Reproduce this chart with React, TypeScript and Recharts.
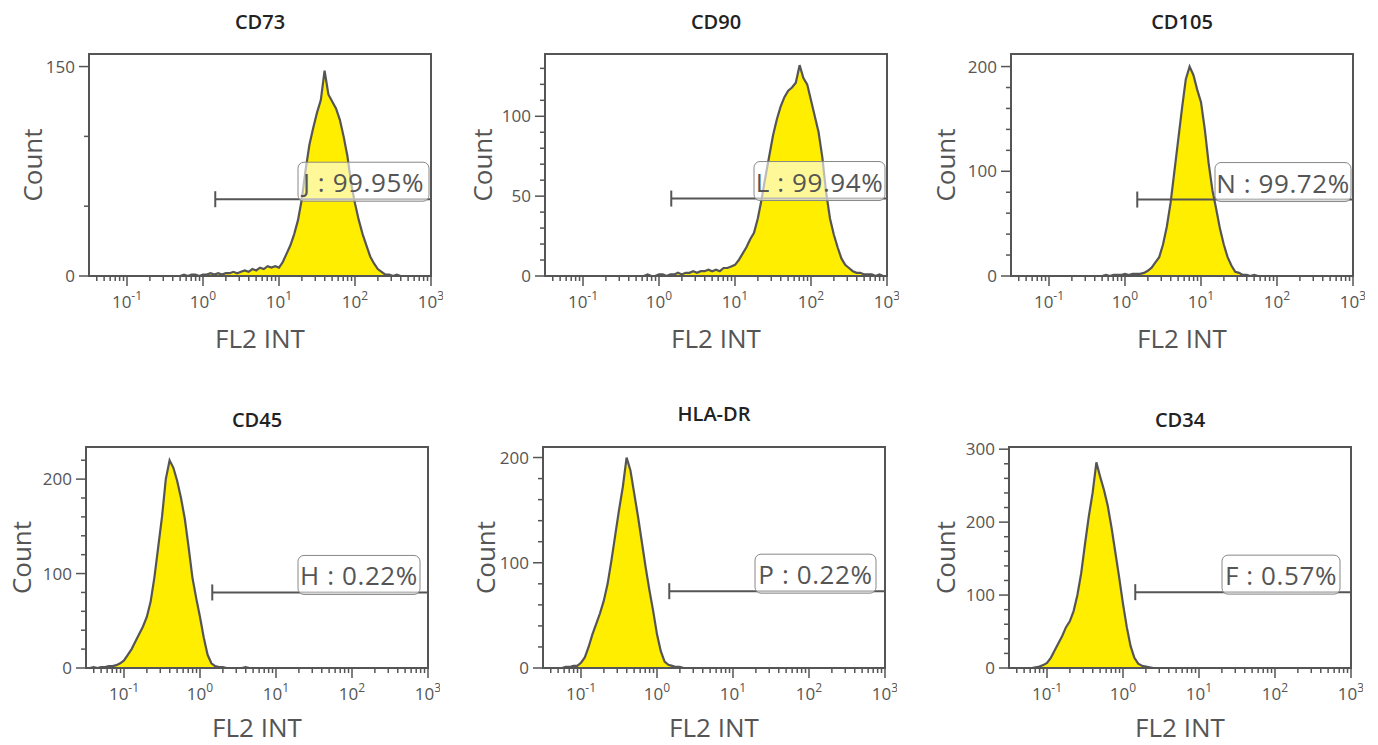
import React from "react";
import { AreaChart, Area, XAxis, YAxis, ReferenceLine, ReferenceArea } from "recharts";

// histogram channels: 0.05 decade bins from 10^-1.5 to 10^3
const LOG_START = -1.5;
const LOG_STEP = 0.05;
const X_MIN = 10 ** LOG_START;
const X_MAX = 1000;

const DECADES = [0.1, 1, 10, 100, 1000];
const DECADE_EXP = ["-1", "0", "1", "2", "3"];
const MINOR_X = [
  0.04, 0.05, 0.06, 0.07, 0.08, 0.09,
  0.2, 0.3, 0.4, 0.5, 0.6, 0.7, 0.8, 0.9,
  2, 3, 4, 5, 6, 7, 8, 9,
  20, 30, 40, 50, 60, 70, 80, 90,
  200, 300, 400, 500, 600, 700, 800, 900,
];
const X_TICKS = [...DECADES, ...MINOR_X].sort((a, b) => a - b);

const cd73Counts = [
  0, 0, 0, 0, 0, 0, 0, 0, 0, 0,
  0, 0, 0, 0, 0, 0, 0, 0, 0, 0,
  0, 0, 0, 0, 0, 1, 0, 1, 1, 0,
  1, 1, 2, 1, 2, 1, 2, 2, 3, 2,
  3, 4, 3, 5, 4, 6, 5, 7, 6, 7,
  6, 10, 16, 22, 30, 40, 55, 76, 94, 106,
  117, 126, 147, 130, 125, 120, 112, 100, 86, 66,
  52, 40, 30, 22, 14, 9, 5, 3, 1, 1,
  0, 1, 0, 0, 0, 0, 0, 0, 0, 0,
  0,
];
const cd90Counts = [
  0, 0, 0, 0, 0, 0, 0, 0, 0, 0,
  0, 0, 0, 0, 0, 0, 0, 0, 0, 0,
  0, 0, 0, 0, 0, 0, 0, 1, 0, 0,
  1, 1, 0, 1, 1, 2, 1, 2, 2, 3,
  2, 3, 3, 4, 3, 4, 3, 5, 5, 6,
  7, 10, 14, 18, 23, 27, 36, 48, 62, 75,
  88, 98, 106, 112, 116, 118, 121, 132, 124, 120,
  110, 100, 90, 74, 52, 36, 26, 18, 11, 7,
  5, 3, 2, 2, 1, 1, 1, 0, 1, 0,
  0,
];
const cd105Counts = [
  0, 0, 0, 0, 0, 0, 0, 0, 0, 0,
  0, 0, 0, 0, 0, 0, 0, 0, 0, 0,
  0, 0, 0, 0, 0, 1, 0, 1, 1, 1,
  2, 1, 2, 2, 2, 3, 5, 8, 13, 18,
  30, 47, 70, 100, 130, 160, 188, 200, 192, 178,
  166, 140, 108, 82, 64, 45, 30, 18, 10, 4,
  3, 1, 1, 0, 1, 0, 0, 0, 0, 0,
  0, 0, 0, 0, 0, 0, 0, 0, 0, 0,
  0, 0, 0, 0, 0, 0, 0, 0, 0, 0,
  0,
];
const cd45Counts = [
  0, 0, 1, 0, 1, 1, 2, 2, 3, 5,
  8, 14, 20, 28, 36, 44, 54, 70, 96, 128,
  160, 200, 220, 212, 198, 180, 158, 128, 96, 74,
  54, 32, 14, 5, 2, 1, 1, 0, 0, 0,
  0, 0, 1, 0, 0, 0, 0, 0, 0, 0,
  0, 0, 0, 0, 0, 0, 0, 0, 0, 0,
  0, 0, 0, 0, 0, 0, 0, 0, 0, 0,
  0, 0, 0, 0, 0, 0, 0, 0, 0, 0,
  0, 0, 0, 0, 0, 0, 0, 0, 0, 0,
  0,
];
const hlaDrCounts = [
  0, 0, 0, 0, 0, 0, 1, 1, 2, 2,
  5, 10, 20, 32, 42, 52, 64, 80, 102, 126,
  150, 172, 200, 188, 166, 144, 120, 96, 74, 54,
  32, 16, 6, 3, 2, 1, 1, 0, 0, 0,
  0, 0, 0, 0, 0, 0, 0, 0, 0, 0,
  0, 0, 0, 0, 0, 0, 0, 0, 0, 0,
  0, 0, 0, 0, 0, 0, 0, 0, 0, 0,
  0, 0, 0, 0, 0, 0, 0, 0, 0, 0,
  0, 0, 0, 0, 0, 0, 0, 0, 0, 0,
  0,
];
const cd34Counts = [
  0, 0, 0, 0, 0, 0, 0, 1, 2, 4,
  7, 14, 24, 34, 44, 56, 64, 78, 100, 130,
  170, 208, 240, 282, 262, 244, 222, 192, 158, 124,
  88, 56, 30, 14, 6, 3, 2, 1, 0, 0,
  0, 0, 0, 0, 0, 0, 0, 0, 0, 0,
  0, 0, 0, 0, 0, 0, 0, 0, 0, 0,
  0, 0, 0, 0, 0, 0, 0, 0, 0, 0,
  0, 0, 0, 0, 0, 0, 0, 0, 0, 0,
  0, 0, 0, 0, 0, 0, 0, 0, 0, 0,
  0,
];

const cd73YTicks = [0, 50, 100, 150];
const cd90YTicks = [0, 10, 20, 30, 40, 50, 60, 70, 80, 90, 100, 110, 120, 130];
const cd105YTicks = [0, 20, 40, 60, 80, 100, 120, 140, 160, 180, 200];
const cd45YTicks = [0, 20, 40, 60, 80, 100, 120, 140, 160, 180, 200, 220];
const hlaDrYTicks = [0, 20, 40, 60, 80, 100, 120, 140, 160, 180, 200];
const cd34YTicks = [0, 20, 40, 60, 80, 100, 120, 140, 160, 180, 200, 220, 240, 260, 280, 300];

const GATE_START = 1.45;

const INK = "#555";
const FONT = "'Open Sans', 'Noto Sans', sans-serif";
const PLOT_W = 342;
const Y_AXIS_W = 85;
const PAD_TOP = 12;
const PAD_RIGHT = 12;

interface Panel {
  title: string;
  counts: number[];
  yMax: number;
  yTicks: number[];
  yLabels: number[];
  gate: number;
  gateLabel: string;
  left: number;
  top: number;
  plotH: number;
  axisH: number;
  xLabelY: number;
  titleY: number;
  countOff: number;
  boxW: number;
  boxGap: number;
}

const panels: Panel[] = [
  { title: "CD73", counts: cd73Counts, yMax: 159, yTicks: cd73YTicks, yLabels: [0, 150], gate: 55, gateLabel: "J : 99.95%",
    left: 89, top: 54, plotH: 222, axisH: 86, xLabelY: 72, titleY: 22, countOff: 47, boxW: 131, boxGap: 2 },
  { title: "CD90", counts: cd90Counts, yMax: 139, yTicks: cd90YTicks, yLabels: [0, 50, 100], gate: 48.5, gateLabel: "L : 99.94%",
    left: 545, top: 54, plotH: 222, axisH: 86, xLabelY: 72, titleY: 22, countOff: 53, boxW: 131, boxGap: 2 },
  { title: "CD105", counts: cd105Counts, yMax: 212, yTicks: cd105YTicks, yLabels: [0, 100, 200], gate: 73, gateLabel: "N : 99.72%",
    left: 1011, top: 54, plotH: 222, axisH: 86, xLabelY: 72, titleY: 22, countOff: 56, boxW: 136, boxGap: 2 },
  { title: "CD45", counts: cd45Counts, yMax: 234, yTicks: cd45YTicks, yLabels: [0, 100, 200], gate: 80, gateLabel: "H : 0.22%",
    left: 86, top: 447, plotH: 221, axisH: 77, xLabelY: 69, titleY: 420, countOff: 55, boxW: 122, boxGap: 8 },
  { title: "HLA-DR", counts: hlaDrCounts, yMax: 210, yTicks: hlaDrYTicks, yLabels: [0, 100, 200], gate: 73, gateLabel: "P : 0.22%",
    left: 543, top: 447, plotH: 221, axisH: 77, xLabelY: 69, titleY: 414, countOff: 48, boxW: 121, boxGap: 9 },
  { title: "CD34", counts: cd34Counts, yMax: 303, yTicks: cd34YTicks, yLabels: [0, 100, 200, 300], gate: 104, gateLabel: "F : 0.57%",
    left: 1009, top: 447, plotH: 221, axisH: 77, xLabelY: 69, titleY: 420, countOff: 54, boxW: 118, boxGap: 11 },
];

const renderXTick = (props: any) => {
  const { x, y, payload } = props;
  const k = DECADES.indexOf(payload.value);
  const major = k >= 0;
  return (
    <g>
      <line x1={x} x2={x} y1={y} y2={y + (major ? 10 : 5)} stroke={INK} strokeWidth={1.5} />
      {major && (
        <text x={x} y={y + 32} textAnchor="middle" fontSize={17} fill={INK} fontFamily={FONT}>
          10<tspan dy={-8} fontSize={12}>{DECADE_EXP[k]}</tspan>
        </text>
      )}
    </g>
  );
};

const renderYTick = (props: any, labels: number[]) => {
  const { x, y, payload } = props;
  const major = labels.includes(payload.value);
  return (
    <g>
      <line x1={x - (major ? 10 : 5)} x2={x} y1={y} y2={y} stroke={INK} strokeWidth={1.5} />
      {major && (
        <text x={x - 14} y={y + 6} textAnchor="end" fontSize={17} fill={INK} fontFamily={FONT}>
          {payload.value}
        </text>
      )}
    </g>
  );
};

const renderGate = (lp: any, p: Panel) => {
  const { x1, y1, x2 } = lp;
  const left = Math.min(x1, x2);
  const right = Math.max(x1, x2);
  const bx = right - p.boxGap - p.boxW;
  const by = y1 - 37;
  return (
    <g>
      <line x1={left} x2={right} y1={y1} y2={y1} stroke={INK} strokeWidth={2} />
      <line x1={left} x2={left} y1={y1 - 8} y2={y1 + 8} stroke={INK} strokeWidth={2} />
      <rect x={bx} y={by} width={p.boxW} height={39} rx={6} fill="#fff" fillOpacity={0.6} stroke="#888" strokeWidth={1} />
      <text x={bx + p.boxW / 2} y={by + 30} textAnchor="middle" fontSize={26} letterSpacing={0.6} fill={INK} fontFamily={FONT}>
        {p.gateLabel}
      </text>
    </g>
  );
};

const Histogram: React.FC<{ p: Panel }> = ({ p }) => {
  const rows = p.counts.map((c, i) => ({ x: 10 ** (LOG_START + i * LOG_STEP), count: c }));
  const width = Y_AXIS_W + PLOT_W + PAD_RIGHT;
  const height = PAD_TOP + p.plotH + p.axisH;

  return (
    <>
      <div
        style={{
          position: "absolute",
          left: p.left + PLOT_W / 2 - 100,
          top: p.titleY - 13,
          width: 200,
          lineHeight: "26px",
          textAlign: "center",
          fontFamily: FONT,
          fontWeight: 600,
          fontSize: 20,
          color: "#222",
        }}
      >
        {p.title}
      </div>
      <div style={{ position: "absolute", left: p.left - Y_AXIS_W, top: p.top - PAD_TOP }}>
        <AreaChart width={width} height={height} data={rows} margin={{ top: PAD_TOP, right: PAD_RIGHT, left: 0, bottom: 0 }}>
          <XAxis
            dataKey="x"
            type="number"
            scale="log"
            domain={[X_MIN, X_MAX]}
            allowDataOverflow
            ticks={X_TICKS}
            interval={0}
            tickSize={0}
            tickMargin={0}
            tickLine={false}
            tick={renderXTick}
            axisLine={{ stroke: INK, strokeWidth: 2 }}
            height={p.axisH}
            label={(lp: any) => {
              const vb = lp.viewBox;
              return (
                <text x={vb.x + vb.width / 2} y={vb.y + p.xLabelY} textAnchor="middle" fontSize={26} fill={INK} fontFamily={FONT}>
                  FL2 INT
                </text>
              );
            }}
          />
          <YAxis
            type="number"
            domain={[0, p.yMax]}
            allowDataOverflow
            ticks={p.yTicks}
            interval={0}
            tickSize={0}
            tickMargin={0}
            tickLine={false}
            tick={(props: any) => renderYTick(props, p.yLabels)}
            axisLine={{ stroke: INK, strokeWidth: 2 }}
            width={Y_AXIS_W}
            label={(lp: any) => {
              const vb = lp.viewBox;
              const bx = vb.x + vb.width - p.countOff;
              const cy = vb.y + vb.height / 2;
              return (
                <text x={bx} y={cy} transform={`rotate(-90 ${bx} ${cy})`} textAnchor="middle" fontSize={26} fill={INK} fontFamily={FONT}>
                  Count
                </text>
              );
            }}
          />
          <Area
            type="linear"
            dataKey="count"
            stroke={INK}
            strokeWidth={2.2}
            fill="#FFEE00"
            fillOpacity={1}
            dot={false}
            activeDot={false}
            isAnimationActive={false}
          />
          <ReferenceArea x1={X_MIN} x2={X_MAX} y1={0} y2={p.yMax} fill="none" stroke={INK} strokeWidth={2} />
          <ReferenceLine
            segment={[{ x: GATE_START, y: p.gate }, { x: X_MAX, y: p.gate }]}
            stroke={INK}
            shape={(lp: any) => renderGate(lp, p)}
          />
        </AreaChart>
      </div>
    </>
  );
}

export default function App() {
  return (
    <div style={{ position: "absolute", left: 0, top: 0, width: 1378, height: 745, background: "#fff" }}>
      {panels.map((p) => (
        <Histogram key={p.title} p={p} />
      ))}
    </div>
  );
}
